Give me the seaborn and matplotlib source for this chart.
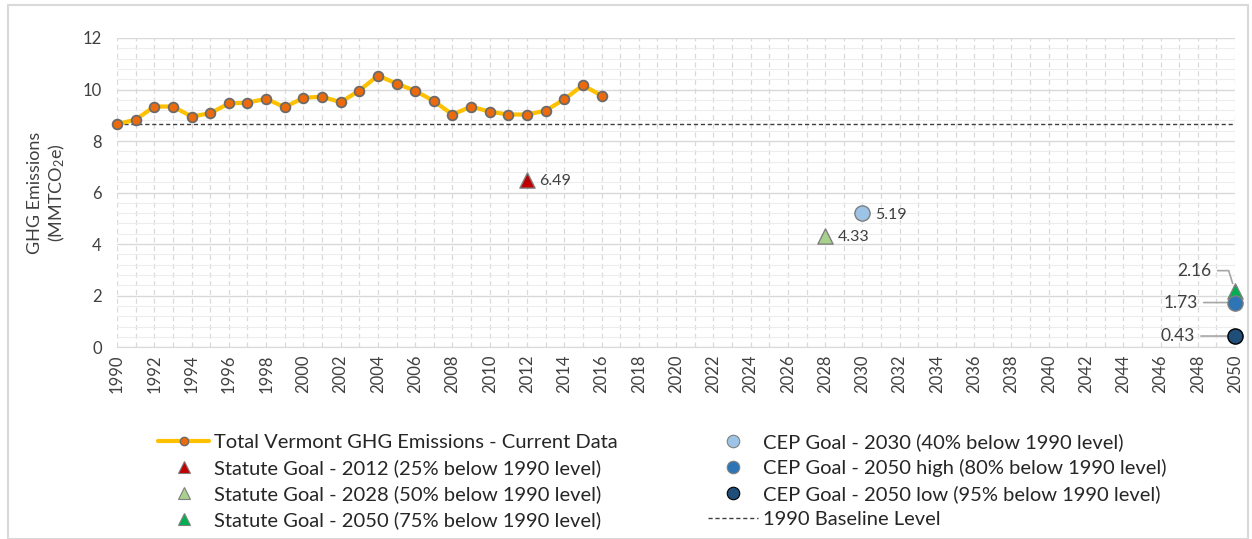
import numpy as np
import pandas as pd
import seaborn as sns
import matplotlib.pyplot as plt
from matplotlib.lines import Line2D
from matplotlib.patches import Rectangle

years = list(range(1990, 2017))
emissions = [8.66, 8.83, 9.34, 9.34, 8.95, 9.08, 9.46, 9.49, 9.64, 9.31,
             9.68, 9.72, 9.51, 9.96, 10.54, 10.23, 9.95, 9.55, 9.03, 9.34,
             9.14, 9.03, 9.03, 9.18, 9.62, 10.17, 9.76]
baseline = 8.66

goal_names = ['Statute Goal - 2012 (25% below 1990 level)',
              'Statute Goal - 2028 (50% below 1990 level)',
              'Statute Goal - 2050 (75% below 1990 level)',
              'CEP Goal - 2030 (40% below 1990 level)',
              'CEP Goal - 2050 high (80% below 1990 level)',
              'CEP Goal - 2050 low (95% below 1990 level)']
goal_years = [2012, 2028, 2050, 2030, 2050, 2050]
goal_values = [6.49, 4.33, 2.16, 5.19, 1.73, 0.43]
goal_markers = ['^', '^', '^', 'o', 'o', 'o']
goal_colors = ['#C00000', '#A9D18E', '#00B050', '#9DC3E6', '#2E75B6', '#1F4E79']
goal_edges = ['#7F7F7F', '#7F7F7F', '#7F7F7F', '#7F7F7F', '#7F7F7F', '#000000']

sns.set_style('white')
plt.rcParams['font.family'] = ['Lato', 'DejaVu Sans']
plt.rcParams['mathtext.fontset'] = 'custom'
plt.rcParams['mathtext.rm'] = 'Lato'
plt.rcParams['mathtext.it'] = 'Lato'

fig = plt.figure(figsize=(12.52, 5.39), dpi=100)
ax = fig.add_axes([0.0935, 0.356, 0.893, 0.5735])

df = pd.DataFrame({'year': years, 'ghg': emissions})

# grid
ax.set_xlim(1990, 2050)
ax.set_ylim(0, 12)
ax.set_yticks(np.arange(0, 12.1, 2))
ax.set_yticks(np.arange(0, 12.01, 0.4), minor=True)
ax.set_xticks(range(1990, 2051, 2))
ax.set_xticks(range(1990, 2051, 1), minor=True)
ax.grid(axis='y', which='major', color='#D9D9D9', lw=1)
ax.grid(axis='y', which='minor', color='#EDEDED', lw=0.8)
ax.grid(axis='x', which='both', color='#D9D9D9', lw=0.9, ls=(0, (4, 3)))
ax.tick_params(which='both', length=0)
for s in ax.spines.values():
    s.set_visible(False)
ax.spines['bottom'].set_visible(True)
ax.spines['bottom'].set_color('#D9D9D9')

ax.axhline(baseline, color='#404040', lw=1, ls=(0, (3, 2)), zorder=2)

sns.lineplot(data=df, x='year', y='ghg', ax=ax, color='#FFC000', lw=3,
             marker='o', markersize=7, markerfacecolor='#ED6A0C',
             markeredgecolor='#6B6B6B', markeredgewidth=1.3, zorder=3, clip_on=False)

for name, yr, v, m, c, e in zip(goal_names, goal_years, goal_values, goal_markers, goal_colors, goal_edges):
    sns.scatterplot(x=[yr], y=[v], ax=ax, marker=m, s=120, color=c, edgecolor=e,
                    linewidth=1, zorder=4, clip_on=False)

# value labels
for yr, v in zip(goal_years[:2] + goal_years[3:4], goal_values[:2] + goal_values[3:4]):
    ax.annotate(f'{v:.2f}', (yr, v), xytext=(9, -1), textcoords='offset points',
                fontsize=11.5, color='#404040', va='center')
for v, dx, dy in [(2.16, -17, 15), (1.73, -27, 0), (0.43, -29, 0)]:
    cs = 'angle,angleA=0,angleB=107,rad=0' if dy else 'arc3'
    ax.annotate(f'{v:.2f}', (2050, v), xytext=(dx, dy), textcoords='offset points',
                fontsize=12.5, color='#404040', va='center', ha='right',
                arrowprops=dict(arrowstyle='-', color='#A6A6A6', lw=1.2,
                                shrinkA=2, shrinkB=6, connectionstyle=cs))

ax.set_xlabel('')
ax.set_ylabel('GHG Emissions\n(MMTCO$_\\mathrm{2}$e)', fontsize=13, color='#404040')
ax.yaxis.set_label_coords(-0.045, 0.5)
ax.tick_params(axis='x', labelrotation=90, labelsize=12, labelcolor='#404040', pad=5)
ax.tick_params(axis='y', labelsize=12, labelcolor='#404040', pad=11)

handles = [
    Line2D([], [], color='#FFC000', lw=3, marker='o', markersize=6,
           markerfacecolor='#ED6A0C', markeredgecolor='#6B6B6B'),
]
labels = ['Total Vermont GHG Emissions - Current Data']
for name, m, c, e in zip(goal_names, goal_markers, goal_colors, goal_edges):
    handles.append(Line2D([], [], ls='', marker=m, markersize=9, markerfacecolor=c,
                          markeredgecolor=e, markeredgewidth=0.8))
    labels.append(name)
handles.append(Line2D([], [], color='#404040', lw=1, ls=(0, (3, 2))))
labels.append('1990 Baseline Level')

fig.legend(handles, labels, ncol=2, loc='upper left', bbox_to_anchor=(0.112, 0.23),
           frameon=False, fontsize=14.5, handlelength=2.5, columnspacing=4.5,
           labelspacing=0.4, handletextpad=0.25, labelcolor='#262626')

fig.patches.append(Rectangle((0.006, 0.0), 0.991, 0.99, transform=fig.transFigure,
                             fill=False, edgecolor='#D9D9D9', lw=1.5))

fig.savefig('out.png', dpi=100)
